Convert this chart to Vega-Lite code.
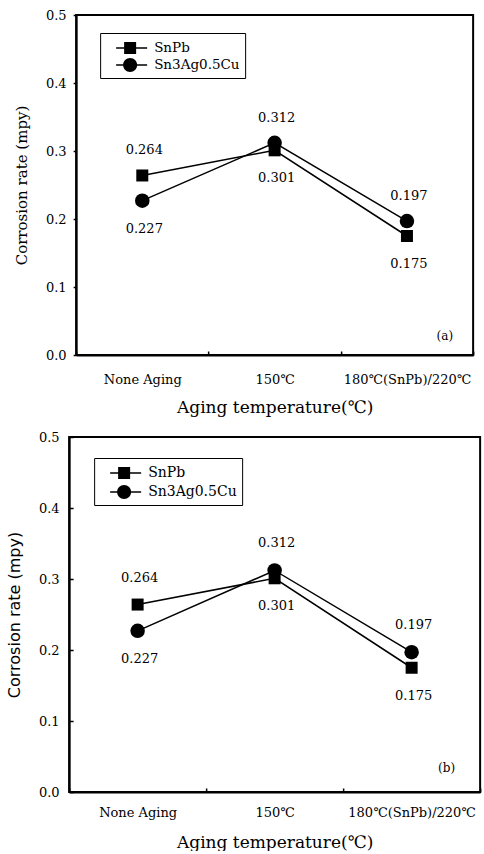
{
  "$schema": "https://vega.github.io/schema/vega-lite/v6.json",
  "background": "white",
  "padding": {"left": 5, "top": 8, "right": 0, "bottom": 0},
  "spacing": 14,
  "center": true,
  "datasets": {
    "rates": [
      {"alloy": "SnPb", "temp": "None Aging", "rate": 0.264},
      {"alloy": "SnPb", "temp": "150℃", "rate": 0.301},
      {"alloy": "SnPb", "temp": "180℃(SnPb)/220℃", "rate": 0.175},
      {"alloy": "Sn3Ag0.5Cu", "temp": "None Aging", "rate": 0.227},
      {"alloy": "Sn3Ag0.5Cu", "temp": "150℃", "rate": 0.312},
      {"alloy": "Sn3Ag0.5Cu", "temp": "180℃(SnPb)/220℃", "rate": 0.197}
    ]
  },
  "config": {
    "font": "DejaVu Serif",
    "view": {"stroke": "black", "strokeWidth": 2},
    "axis": {
      "grid": false,
      "domainColor": "black",
      "domainWidth": 2,
      "tickColor": "black",
      "tickWidth": 1.5,
      "labelColor": "black",
      "titleColor": "black",
      "titleFontWeight": "normal",
      "labelFont": "DejaVu Serif",
      "titleFont": "DejaVu Serif"
    },
    "legend": {
      "labelFont": "DejaVu Serif",
      "labelFontSize": 13.5,
      "labelColor": "black",
      "strokeColor": "black",
      "fillColor": "white",
      "padding": 5,
      "cornerRadius": 0,
      "symbolStrokeColor": "black",
      "symbolFillColor": "black",
      "symbolStrokeWidth": 0,
      "symbolSize": 400,
      "symbolOffset": 25,
      "rowPadding": 0,
      "labelOffset": 4
    }
  },
  "vconcat": [
    {
      "width": 397,
      "height": 340,
      "data": {"name": "rates"},
      "encoding": {
        "x": {
          "field": "temp",
          "type": "nominal",
          "sort": ["None Aging", "150℃", "180℃(SnPb)/220℃"],
          "scale": {"paddingInner": 0, "paddingOuter": 0},
          "axis": {
            "title": "Aging temperature(℃)",
            "titleFontSize": 17,
            "titlePadding": 13,
            "labelAngle": 0,
            "labelFontSize": 13,
            "labelPadding": 22,
            "tickBand": "extent",
            "tickSize": -4
          }
        },
        "y": {
          "field": "rate",
          "type": "quantitative",
          "scale": {"domain": [0, 0.5], "nice": false},
          "axis": {
            "title": "Corrosion rate (mpy)",
            "titleFontSize": 15,
            "titlePadding": 16,
            "values": [0, 0.1, 0.2, 0.3, 0.4, 0.5],
            "format": ".1f",
            "labelFontSize": 13,
            "tickSize": 3,
            "labelPadding": 7
          }
        }
      },
      "layer": [
        {
          "mark": {"type": "line", "color": "black", "strokeWidth": 1.5},
          "encoding": {"detail": {"field": "alloy"}}
        },
        {
          "transform": [{"filter": "false"}],
          "mark": {"type": "point", "filled": true, "color": "black", "opacity": 1, "size": 400},
          "encoding": {
            "shape": {
              "field": "alloy",
              "type": "nominal",
              "scale": {
                "domain": ["SnPb", "Sn3Ag0.5Cu"],
                "range": [
                  "M-2.4,-0.075L0.7,-0.075L0.7,0.075L-2.4,0.075Z M-1.6,-0.6L-0.4,-0.6L-0.4,0.6L-1.6,0.6Z",
                  "M-2.4,-0.075L-1.69,-0.075L-1.69,0.075L-2.4,0.075Z M-0.31,-0.075L0.7,-0.075L0.7,0.075L-0.31,0.075Z M-1.7,0A0.7,0.7 0 1,1 -0.3,0A0.7,0.7 0 1,1 -1.7,0Z"
                ]
              },
              "legend": {
                "title": null,
                "orient": "none",
                "legendX": 24,
                "legendY": 18
              }
            }
          }
        },
        {
          "mark": {"type": "point", "filled": true, "color": "black", "opacity": 1},
          "encoding": {
            "shape": {"condition": {"test": "datum.alloy === 'SnPb'", "value": "square"}, "value": "circle"},
            "size": {"condition": {"test": "datum.alloy === 'SnPb'", "value": 144}, "value": 210}
          }
        },
        {
          "transform": [
            {"joinaggregate": [{"op": "max", "field": "rate", "as": "top"}], "groupby": ["temp"]},
            {"filter": "datum.rate === datum.top"}
          ],
          "mark": {"type": "text", "fontSize": 13, "dy": -25, "dx": 2, "color": "black", "font": "DejaVu Serif"},
          "encoding": {"text": {"field": "rate", "format": ".3f"}}
        },
        {
          "transform": [
            {"joinaggregate": [{"op": "max", "field": "rate", "as": "top"}], "groupby": ["temp"]},
            {"filter": "datum.rate < datum.top"}
          ],
          "mark": {"type": "text", "fontSize": 13, "dy": 28, "dx": 2, "color": "black", "font": "DejaVu Serif"},
          "encoding": {"text": {"field": "rate", "format": ".3f"}}
        },
        {
          "data": {"values": [{"tag": "(a)", "temp": "180℃(SnPb)/220℃", "rate": 0.028}]},
          "mark": {"type": "text", "fontSize": 12, "align": "right", "dx": -20, "color": "black", "font": "DejaVu Serif"},
          "encoding": {
            "x": {"field": "temp", "type": "nominal", "bandPosition": 1},
            "y": {"field": "rate", "type": "quantitative"},
            "text": {"field": "tag"}
          }
        }
      ]
    },
    {
      "width": 411,
      "height": 355,
      "data": {"name": "rates"},
      "encoding": {
        "x": {
          "field": "temp",
          "type": "nominal",
          "sort": ["None Aging", "150℃", "180℃(SnPb)/220℃"],
          "scale": {"paddingInner": 0, "paddingOuter": 0},
          "axis": {
            "title": "Aging temperature(℃)",
            "titleFontSize": 17,
            "titlePadding": 15,
            "labelAngle": 0,
            "labelFontSize": 13,
            "labelPadding": 18,
            "tickBand": "extent",
            "tickSize": -4
          }
        },
        "y": {
          "field": "rate",
          "type": "quantitative",
          "scale": {"domain": [0, 0.5], "nice": false},
          "axis": {
            "title": "Corrosion rate (mpy)",
            "titleFont": "DejaVu Sans",
            "titleFontSize": 16,
            "titlePadding": 16,
            "values": [0, 0.1, 0.2, 0.3, 0.4, 0.5],
            "format": ".1f",
            "labelFontSize": 13,
            "tickSize": -4,
            "labelPadding": 14
          }
        }
      },
      "layer": [
        {
          "mark": {"type": "line", "color": "black", "strokeWidth": 1.5},
          "encoding": {"detail": {"field": "alloy"}}
        },
        {
          "transform": [{"filter": "false"}],
          "mark": {"type": "point", "filled": true, "color": "black", "opacity": 1, "size": 400},
          "encoding": {
            "shape": {
              "field": "alloy",
              "type": "nominal",
              "scale": {
                "domain": ["SnPb", "Sn3Ag0.5Cu"],
                "range": [
                  "M-2.4,-0.075L0.7,-0.075L0.7,0.075L-2.4,0.075Z M-1.6,-0.6L-0.4,-0.6L-0.4,0.6L-1.6,0.6Z",
                  "M-2.4,-0.075L-1.69,-0.075L-1.69,0.075L-2.4,0.075Z M-0.31,-0.075L0.7,-0.075L0.7,0.075L-0.31,0.075Z M-1.7,0A0.7,0.7 0 1,1 -0.3,0A0.7,0.7 0 1,1 -1.7,0Z"
                ]
              },
              "legend": {
                "title": null,
                "orient": "none",
                "legendX": 25,
                "legendY": 21,
                "rowPadding": 2,
                "labelFontSize": 14
              }
            }
          }
        },
        {
          "mark": {"type": "point", "filled": true, "color": "black", "opacity": 1},
          "encoding": {
            "shape": {"condition": {"test": "datum.alloy === 'SnPb'", "value": "square"}, "value": "circle"},
            "size": {"condition": {"test": "datum.alloy === 'SnPb'", "value": 144}, "value": 210}
          }
        },
        {
          "transform": [
            {"joinaggregate": [{"op": "max", "field": "rate", "as": "top"}], "groupby": ["temp"]},
            {"filter": "datum.rate === datum.top"}
          ],
          "mark": {"type": "text", "fontSize": 13, "dy": -27, "dx": 2, "color": "black", "font": "DejaVu Serif"},
          "encoding": {"text": {"field": "rate", "format": ".3f"}}
        },
        {
          "transform": [
            {"joinaggregate": [{"op": "max", "field": "rate", "as": "top"}], "groupby": ["temp"]},
            {"filter": "datum.rate < datum.top"}
          ],
          "mark": {"type": "text", "fontSize": 13, "dy": 28, "dx": 2, "color": "black", "font": "DejaVu Serif"},
          "encoding": {"text": {"field": "rate", "format": ".3f"}}
        },
        {
          "data": {"values": [{"tag": "(b)", "temp": "180℃(SnPb)/220℃", "rate": 0.034}]},
          "mark": {"type": "text", "fontSize": 12, "align": "right", "dx": -25, "color": "black", "font": "DejaVu Serif"},
          "encoding": {
            "x": {"field": "temp", "type": "nominal", "bandPosition": 1},
            "y": {"field": "rate", "type": "quantitative"},
            "text": {"field": "tag"}
          }
        }
      ],
      "resolve": {"legend": {"shape": "independent"}}
    }
  ],
  "resolve": {"legend": {"shape": "independent"}, "scale": {"x": "independent", "y": "independent", "shape": "independent"}}
}
